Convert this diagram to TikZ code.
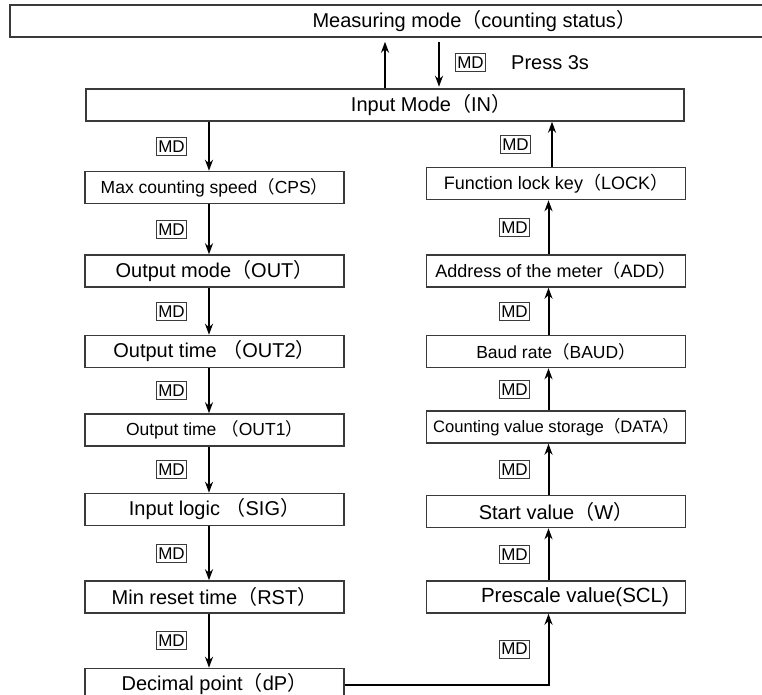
\documentclass[tikz,border=0pt]{standalone}
\usepackage{fontspec}
\setmainfont{Liberation Sans}
\newfontfamily\cjk{Noto Sans CJK SC}
\usepackage{tikz}
\usetikzlibrary{arrows.meta, positioning}
\definecolor{boxgray}{HTML}{3a3a3a}
\newcommand{\fwl}{{\cjk （}}
\newcommand{\fwr}{{\cjk ）}}
\newcommand{\fs}[1]{\fontsize{#1}{#1}\selectfont}

\begin{document}
\begin{tikzpicture}[
    x=1pt, y=-1pt,
    node distance=50pt,
    block/.style={rectangle, draw=boxgray, line width=1.5pt, minimum height=32pt,
                  inner sep=0pt, font=\fs{20}},
    colblock/.style={block, minimum width=259pt},
    keybox/.style={rectangle, draw=boxgray, line width=1pt, minimum width=30pt,
                   minimum height=18pt, inner sep=0pt, font=\fs{17}},
    arrow/.style={-{Stealth[length=11pt, width=8pt]}, line width=2pt},
  ]
  \useasboundingbox (0,0) rectangle (762,695);

  \node[block, minimum width=755pt, anchor=west] (measure) at (9,21)
    {\hspace*{174pt}Measuring mode\fwl counting status\fwr};
  \node[block, minimum width=598pt] (input) at (385,105) {\hspace*{92pt}Input Mode\fwl IN\fwr};

  % left column
  \node[colblock, font=\fs{17.5}] (cps) at (214.5,187.5) {Max counting speed\fwl CPS\fwr};
  \node[colblock, below=50pt of cps] (out) {Output mode\fwl OUT\fwr};
  \node[colblock, below=47pt of out] (outtwo) {Output time \fwl OUT2\fwr};
  \node[colblock, below=45pt of outtwo, font=\fs{17.5}] (outone) {Output time \fwl OUT1\fwr};
  \node[colblock, below=46pt of outone] (sig) {Input logic \fwl SIG\fwr};
  \node[colblock, below=54pt of sig] (rst) {Min reset time\fwl RST\fwr};
  \node[colblock, below=54pt of rst] (dp) {Decimal point\fwl dP\fwr};

  % right column
  \node[colblock, font=\fs{18}] (lock) at (556,183.5) {Function lock key\fwl LOCK\fwr};
  \node[colblock, below=54pt of lock, font=\fs{18}] (addr) {Address of the meter\fwl ADD\fwr};
  \node[colblock, below=47pt of addr, font=\fs{17.5}] (baud) {Baud rate\fwl BAUD\fwr};
  \node[colblock, below=42pt of baud, font=\fs{16.6}] (data) {Counting value storage\fwl DATA\fwr};
  \node[colblock, below=51pt of data] (start) {Start value\fwl W\fwr};
  \node[colblock, below=52pt of start, font=\fs{20.5}] (scl) {\hspace*{38pt}Prescale value(SCL)};

  % measuring mode <-> input mode
  \coordinate (down) at ([xshift=54pt]input.north);
  \draw[arrow, shorten <=4pt, shorten >=1.5pt] (down |- measure.south)
    -- node[keybox, right=16pt] (mdtop) {MD} (down);
  \node[right=25pt of mdtop, inner sep=0pt, font=\fs{20}] (press) {Press 3s};
  \draw[arrow, shorten >=4pt] (input.north) -- (input.north |- measure.south);

  % left column arrows
  \coordinate (lx) at ([xshift=-5.5pt]cps.north);
  \draw[arrow] (lx |- input.south) -- node[keybox, left=22pt] (mda) {MD} (lx);
  \draw[arrow] ([xshift=-5.5pt]cps.south) -- node[keybox, left=22pt] (mdb) {MD} ([xshift=-5.5pt]out.north);
  \draw[arrow] ([xshift=-5.5pt]out.south) -- node[keybox, left=22pt] (mdc) {MD} ([xshift=-5.5pt]outtwo.north);
  \draw[arrow] ([xshift=-5.5pt]outtwo.south) -- node[keybox, left=22pt] (mdd) {MD} ([xshift=-5.5pt]outone.north);
  \draw[arrow] ([xshift=-5.5pt]outone.south) -- node[keybox, left=22pt] (mde) {MD} ([xshift=-5.5pt]sig.north);
  \draw[arrow] ([xshift=-5.5pt]sig.south) -- node[keybox, left=22pt] (mdf) {MD} ([xshift=-5.5pt]rst.north);
  \draw[arrow] ([xshift=-5.5pt]rst.south) -- node[keybox, left=22pt] (mdg) {MD} ([xshift=-5.5pt]dp.north);

  % across and up the right column
  \draw[arrow] (dp.east) -| node[pos=0.75, keybox, left=18.5pt] (mdh) {MD} ([xshift=-7.5pt]scl.south);
  \draw[arrow] ([xshift=-7.5pt]scl.north) -- node[keybox, left=18.5pt] (mdi) {MD} ([xshift=-7.5pt]start.south);
  \draw[arrow] ([xshift=-7.5pt]start.north) -- node[keybox, left=18.5pt] (mdj) {MD} ([xshift=-7.5pt]data.south);
  \draw[arrow] ([xshift=-7.5pt]data.north) -- node[keybox, left=18.5pt] (mdk) {MD} ([xshift=-7.5pt]baud.south);
  \draw[arrow] ([xshift=-7.5pt]baud.north) -- node[keybox, left=18.5pt] (mdl) {MD} ([xshift=-7.5pt]addr.south);
  \draw[arrow] ([xshift=-7.5pt]addr.north) -- node[keybox, left=18.5pt] (mdm) {MD} ([xshift=-7.5pt]lock.south);
  \coordinate (rx) at ([xshift=-4pt]lock.north);
  \draw[arrow] (rx) -- node[keybox, left=21pt] (mdn) {MD} (rx |- input.south);
\end{tikzpicture}
\end{document}
